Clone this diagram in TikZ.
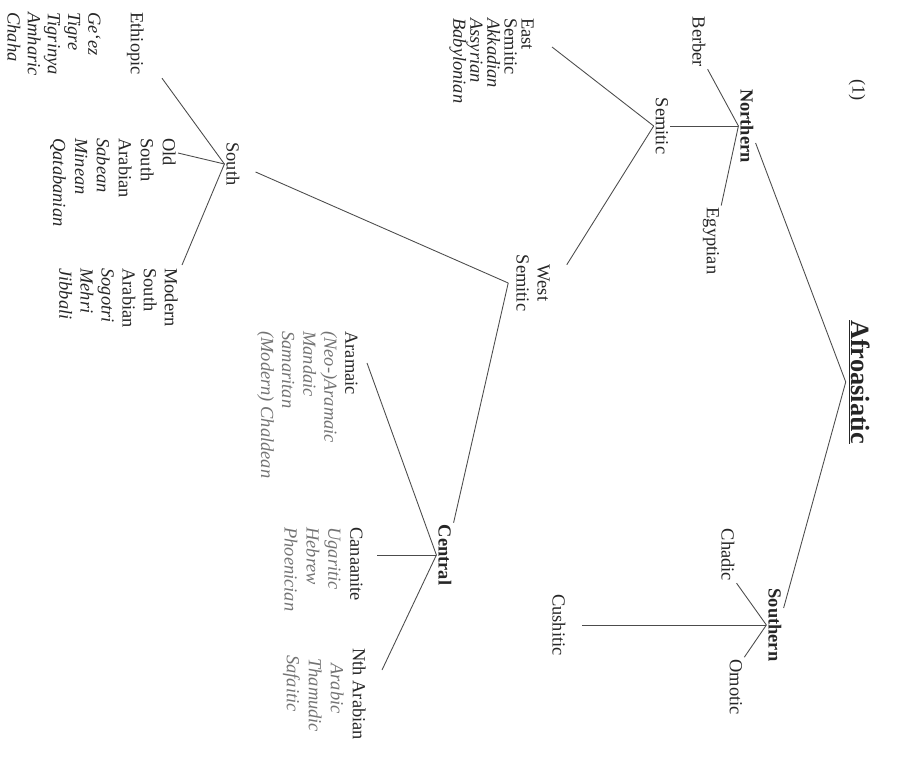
\documentclass[tikz,border=0pt]{standalone}
\usepackage{fontspec}
\setmainfont{Liberation Serif}
\usepackage{tikz}
\usetikzlibrary{calc}

\begin{document}
\begin{tikzpicture}[x=0.02cm, y=-0.02cm,
  every node/.style={rotate=-90, inner sep=1pt, text=black!85, font=\fontsize{10.5}{12}\selectfont},
  head/.style={font=\fontsize{10.5}{12}\selectfont\bfseries},
  list/.style={align=left, anchor=north west, inner sep=0pt},
  faded/.style={text=black!55},
  branch/.style={draw=black!70, line width=0.5pt}
]
  \useasboundingbox (0,0) rectangle (903,761);

  \node (num) at (857,90) {(1)};
  \node[font=\fontsize{15}{17}\selectfont\bfseries] (afro) at (859,382) {\underline{Afroasiatic}};

  \node[head] (northern) at (747,126) {Northern};
  \node[head] (southern) at (775,625) {Southern};
  \node (berber)   at (699,42)  {Berber};
  \node (egypt)    at (711,241) {Egyptian};
  \node (chadic)   at (728,555) {Chadic};
  \node (omotic)   at (736,687) {Omotic};
  \node (cushitic) at (559,625) {Cushitic};
  \node (semitic)  at (662,126) {Semitic};
  \node[align=center] (westsem) at (533,283) {West\\Semitic};
  \node (south)    at (233,164) {South};
  \node[head] (central) at (445,555) {Central};

  \node[list, font=\fontsize{10.5}{9.7}\selectfont] (eastsem) at (534,18)
    {East\\Semitic\\\textit{Akkadian}\\\textit{Assyrian}\\\textit{Babylonian}};
  \node[list] (ethio) at (144,12) {Ethiopic};
  \node[list, font=\fontsize{10.5}{11.5}\selectfont] (ethiolist) at (101,12)
    {\textit{Ge‘ez}\\\textit{Tigre}\\\textit{Tigrinya}\\\textit{Amharic}\\\textit{Chaha}};
  \node[list, font=\fontsize{10.5}{12.5}\selectfont] (oldsa) at (176,138)
    {Old\\South\\Arabian\\\textit{Sabean}\\\textit{Minean}\\\textit{Qatabanian}};
  \node[list] (modsa) at (178,268)
    {Modern\\South\\Arabian\\\textit{Sogotri}\\\textit{Mehri}\\\textit{Jibbali}};
  \node[list] (aram) at (358,331)
    {Aramaic\\\textcolor{black!55}{\textit{(Neo-)Aramaic}}\\\textcolor{black!55}{\textit{Mandaic}}\\\textcolor{black!55}{\textit{Samaritan}}\\\textcolor{black!55}{\textit{(Modern) Chaldean}}};
  \node[list, font=\fontsize{10.5}{12.5}\selectfont] (canaan) at (363,527)
    {Canaanite\\\textcolor{black!55}{\textit{Ugaritic}}\\\textcolor{black!55}{\textit{Hebrew}}\\\textcolor{black!55}{\textit{Phoenician}}};
  \node[list, font=\fontsize{10.5}{12.5}\selectfont] (ntharab) at (366,648)
    {Nth Arabian\\\hspace*{0.3cm}\textcolor{black!55}{\textit{Arabic}}\\\hspace*{0.2cm}\textcolor{black!55}{\textit{Thamudic}}\\\hspace*{0.14cm}\textcolor{black!55}{\textit{Safaitic}}};

  \coordinate (wsroot) at ($(westsem.south)+(-6,0)$);

  \draw[branch] (afro.south) -- ($(northern.north)+(0,17)$);
  \draw[branch] (afro.south) -- ($(southern.north)+(0,-17)$);
  \draw[branch] (northern.south) -- (berber.north east);
  \draw[branch] (northern.south) -- (semitic.north);
  \draw[branch] (northern.south) -- (egypt.north west);
  \draw[branch] (southern.south) -- (chadic.north east);
  \draw[branch] (southern.south) -- ($(cushitic.north)+(14,0)$);
  \draw[branch] (southern.south) -- (omotic.north west);
  \draw[branch] (semitic.south) -- ($(eastsem.north west)+(18,29)$);
  \draw[branch] (semitic.south) -- ($(westsem.north west)+(15,12)$);
  \draw[branch] (wsroot) -- ($(south.north)+(14,8)$);
  \draw[branch] (wsroot) -- (central.north west);
  \draw[branch] (south.south) -- ($(ethio.north east)+(18,3)$);
  \draw[branch] (south.south) -- ($(oldsa.north west)+(2,15)$);
  \draw[branch] (south.south) -- ($(modsa.north west)+(4,-3)$);
  \draw[branch] (central.south) -- ($(aram.north west)+(9,32)$);
  \draw[branch] (central.south) -- ($(canaan.north west)+(14,28)$);
  \draw[branch] (central.south) -- ($(ntharab.north west)+(16,22)$);
\end{tikzpicture}
\end{document}
